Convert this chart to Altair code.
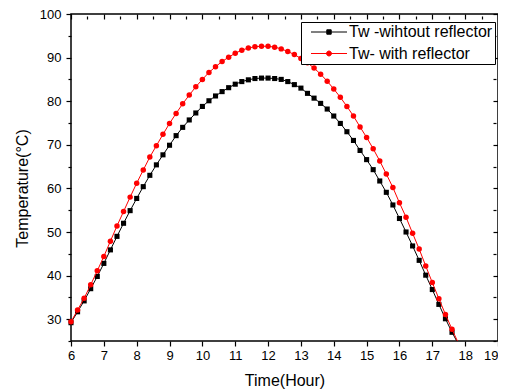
import altair as alt
import pandas as pd

hours = [6.0, 6.2, 6.4, 6.6, 6.8, 7.0, 7.2, 7.4, 7.6, 7.8,
         8.0, 8.2, 8.4, 8.6, 8.8, 9.0, 9.2, 9.4, 9.6, 9.8,
         10.0, 10.2, 10.4, 10.6, 10.8, 11.0, 11.2, 11.4, 11.6, 11.8,
         12.0, 12.2, 12.4, 12.6, 12.8, 13.0, 13.2, 13.4, 13.6, 13.8,
         14.0, 14.2, 14.4, 14.6, 14.8, 15.0, 15.2, 15.4, 15.6, 15.8,
         16.0, 16.2, 16.4, 16.6, 16.8, 17.0, 17.2, 17.4, 17.6, 17.8]

without_reflector = [29.2, 31.7, 34.2, 37.0, 39.8, 42.8, 45.9, 49.0, 52.0, 54.9,
                     57.7, 60.4, 63.0, 65.4, 67.7, 69.9, 72.1, 74.0, 75.7, 77.3,
                     78.8, 80.1, 81.2, 82.2, 83.1, 83.9, 84.5, 84.9, 85.2, 85.3,
                     85.3, 85.2, 85.0, 84.5, 83.8, 83.0, 81.8, 80.7, 79.5, 78.2,
                     76.6, 74.9, 73.0, 71.0, 68.7, 66.6, 64.3, 61.7, 59.1, 56.2,
                     53.1, 50.0, 46.8, 43.5, 40.1, 36.8, 33.4, 30.1, 27.0, 24.2]

with_reflector = [29.4, 32.1, 34.8, 37.9, 41.1, 44.4, 47.9, 51.4, 54.7, 58.0,
                  61.2, 64.2, 67.2, 69.8, 72.4, 74.9, 77.2, 79.4, 81.4, 83.3,
                  85.0, 86.6, 87.9, 89.1, 90.1, 91.0, 91.7, 92.2, 92.5, 92.6,
                  92.6, 92.4, 92.0, 91.4, 90.7, 89.8, 88.8, 87.6, 86.2, 84.6,
                  82.8, 80.9, 78.8, 76.6, 74.1, 71.7, 69.1, 66.3, 63.3, 60.2,
                  56.7, 53.4, 49.7, 46.1, 42.2, 38.4, 34.7, 31.1, 27.7, 24.4]

series_names = ["Tw -wihtout reflector", "Tw- with reflector"]
series_colors = ["#000000", "#ff0000"]
legend_paths = [
    "M0,0H9M3.95,-0.55H5.05V0.55H3.95Z",
    "M0,0H9M5.12,0A0.62,0.62 0 1,1 3.88,0A0.62,0.62 0 1,1 5.12,0Z",
]
x_ticks = [6, 6.5, 7, 7.5, 8, 8.5, 9, 9.5, 10, 10.5, 11, 11.5, 12, 12.5,
           13, 13.5, 14, 14.5, 15, 15.5, 16, 16.5, 17, 17.5, 18, 18.5, 19]
y_ticks = [25, 30, 35, 40, 45, 50, 55, 60, 65, 70, 75, 80, 85, 90, 95, 100]
x_domain = [6, 19]
y_domain = [25, 100]

df = pd.DataFrame({
    "hour": hours + hours,
    "temp": without_reflector + with_reflector,
    "series": [series_names[0]] * len(hours) + [series_names[1]] * len(hours),
})

FONT = "Liberation Sans"
xs = alt.Scale(domain=x_domain, nice=False, zero=False)
ys = alt.Scale(domain=y_domain, nice=False, zero=False)

major_x = {"condition": {"test": "datum.value % 1 === 0", "value": 5}, "value": 3}
major_y = {"condition": {"test": "datum.value % 10 === 0", "value": 5}, "value": 3}

x_bottom = alt.X("hour:Q", scale=xs, axis=alt.Axis(
    orient="bottom", values=x_ticks, title="Time(Hour)", format="d",
    labelExpr="datum.value % 1 === 0 ? datum.label : ''",
    labelAlign={"condition": {"test": "datum.value === 19", "value": "right"}, "value": "center"},
    tickSize=major_x, labelPadding=3, titleY=39, titleBaseline="middle",
    domain=False, labelFlush=False, labelOverlap=False))
y_left = alt.Y("temp:Q", scale=ys, axis=alt.Axis(
    orient="left", values=y_ticks, title="Temperature(°C)", format="d",
    labelExpr="datum.value % 10 === 0 ? datum.label : ''",
    tickSize=major_y, labelPadding=5, titleX=-49, titleY=174, titleBaseline="middle",
    domain=False, labelFlush=False, labelOverlap=False))
x_plain = alt.X("hour:Q", scale=xs, axis=None)
y_plain = alt.Y("temp:Q", scale=ys, axis=None)

base = alt.Chart(df)


def series_layers(i, shape, size, with_axes):
    sub = base.transform_filter(alt.datum.series == series_names[i])
    line = sub.mark_line(strokeWidth=1, clip=True, color=series_colors[i]).encode(
        x=x_bottom if with_axes else x_plain,
        y=y_left if with_axes else y_plain)
    pts = sub.transform_filter(alt.datum.temp >= 25).mark_point(
        shape=shape, filled=True, size=size, opacity=1, color=series_colors[i]
    ).encode(x=x_plain, y=y_plain)
    return [line, pts]


leg = alt.Legend(title=None, orient="none", legendX=230, legendY=8,
                 labelFont=FONT, labelFontSize=16, labelColor="black",
                 symbolSize=64, symbolStrokeWidth=1, symbolOpacity=1,
                 strokeColor="black", fillColor="white", padding=2,
                 rowPadding=5.5, labelOffset=30, cornerRadius=0)

guide = base.mark_point(opacity=0).encode(
    x=alt.X("hour:Q", scale=xs, axis=alt.Axis(
        orient="top", values=x_ticks, labels=False, title=None, domain=False,
        tickSize=major_x, offset=-5)),
    y=alt.Y("temp:Q", scale=ys, axis=alt.Axis(
        orient="right", values=y_ticks, labels=False, title=None, domain=False,
        tickSize=major_y, offset=-5)),
    fill=alt.Fill("series:N", scale=alt.Scale(domain=series_names, range=series_colors), legend=leg),
    stroke=alt.Stroke("series:N", scale=alt.Scale(domain=series_names, range=series_colors), legend=leg),
    shape=alt.Shape("series:N", scale=alt.Scale(domain=series_names, range=legend_paths), legend=leg),
)

layers = series_layers(0, "square", 26, True) + series_layers(1, "circle", 30, False) + [guide]

chart = alt.layer(*layers).resolve_axis(x="independent", y="independent").properties(
    width=427, height=327, autosize="none", background="white",
    padding={"left": 63, "top": 6, "right": 0, "bottom": 50},
).configure_view(stroke="black", strokeWidth=1.5).configure_axis(
    labelFont=FONT, labelFontSize=13, labelColor="black",
    titleFont=FONT, titleFontSize=16, titleFontWeight="normal", titleColor="black",
    tickColor="black", tickWidth=1.2, grid=False,
)

chart.save("out.html", embed_options={"renderer": "svg", "actions": False})
